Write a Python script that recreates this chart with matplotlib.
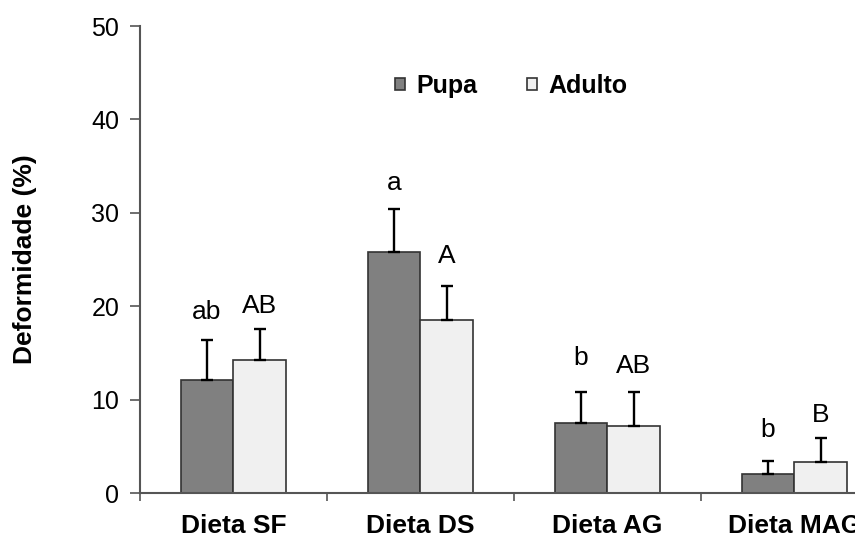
import matplotlib.pyplot as plt
import numpy as np

# Dados
dietas = ['Dieta SF', 'Dieta DS', 'Dieta AG', 'Dieta MAG']
pupa = [12.1, 25.8, 7.5, 2.0]
pupa_erro = [4.3, 4.6, 3.3, 1.4]
adulto = [14.2, 18.5, 7.2, 3.3]
adulto_erro = [3.4, 3.7, 3.6, 2.6]
letras_pupa = ['ab', 'a', 'b', 'b']
letras_adulto = ['AB', 'A', 'AB', 'B']
pos_letras_pupa = [18.6, 32.4, 13.7, 6.0]
pos_letras_adulto = [19.3, 24.6, 12.8, 7.6]

plt.rcParams['font.family'] = ['Liberation Sans', 'DejaVu Sans']

fig = plt.figure(figsize=(8.55, 5.35), dpi=100)
ax = fig.add_axes([0.1637, 0.0785, 0.8749, 0.8729])

x = np.arange(len(dietas))
w = 0.283
cor_borda = '#333333'

ax.bar(x - w / 2, pupa, w, color='#808080', edgecolor=cor_borda, linewidth=1.2,
       label='Pupa', zorder=2)
ax.bar(x + w / 2, adulto, w, color='#f0f0f0', edgecolor=cor_borda, linewidth=1.2,
       label='Adulto', zorder=2)

zeros = np.zeros(len(dietas))
ax.errorbar(x - w / 2, pupa, yerr=[zeros, pupa_erro], fmt='none', ecolor='black',
            elinewidth=1.7, capsize=4.3, capthick=1.7, zorder=3)
ax.errorbar(x + w / 2, adulto, yerr=[zeros, adulto_erro], fmt='none', ecolor='black',
            elinewidth=1.7, capsize=4.3, capthick=1.7, zorder=3)

for i in range(len(dietas)):
    ax.text(x[i] - w / 2, pos_letras_pupa[i], letras_pupa[i], ha='center',
            va='baseline', fontsize=19)
    ax.text(x[i] + w / 2, pos_letras_adulto[i], letras_adulto[i], ha='center',
            va='baseline', fontsize=19)

ax.set_xlim(-0.5, len(dietas) - 0.5)
ax.set_ylim(0, 50)
ax.set_yticks(range(0, 51, 10))
ax.set_xticks(np.arange(len(dietas) + 1) - 0.5)
ax.set_xticklabels([])
ax.set_xticks(x, minor=True)
ax.set_xticklabels(dietas, minor=True, fontsize=19, fontweight='bold')
ax.tick_params(axis='x', which='minor', length=0, pad=15)
ax.tick_params(axis='x', which='major', length=6, width=1.2, color='#555555')
ax.tick_params(axis='y', length=7, width=1.2, color='#555555', labelsize=18, pad=8)

for s in ['top', 'right']:
    ax.spines[s].set_visible(False)
for s in ['left', 'bottom']:
    ax.spines[s].set_color('#555555')
    ax.spines[s].set_linewidth(1.5)

ax.set_ylabel('Deformidade (%)', fontsize=19, fontweight='bold')
ax.yaxis.set_label_coords(-0.138, 0.5)

ax.legend(loc='center left', bbox_to_anchor=(0.341, 0.872), ncol=2, frameon=False,
          prop={'weight': 'bold', 'size': 18}, handlelength=0.4, handleheight=0.4,
          handletextpad=0.45, columnspacing=2.0, borderpad=0, borderaxespad=0)

fig.savefig('out.png', dpi=100)
